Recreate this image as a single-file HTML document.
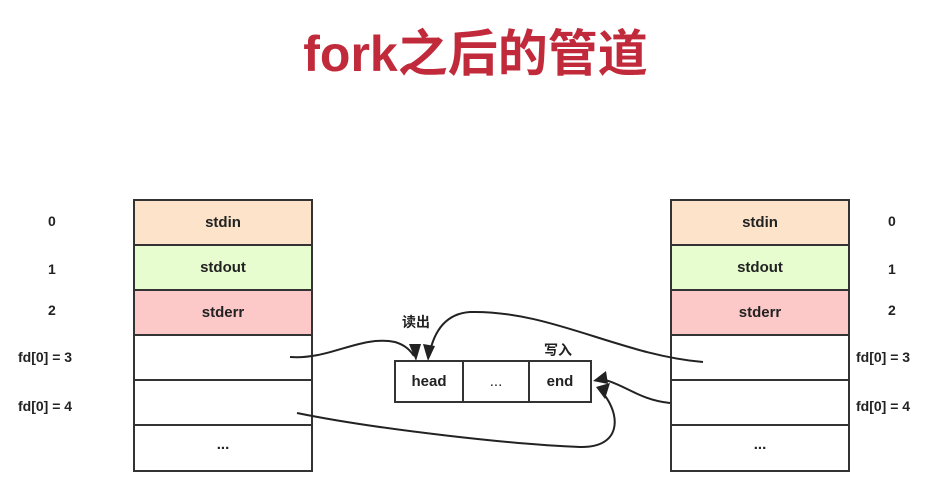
<!DOCTYPE html>
<html><head><meta charset="utf-8"><style>
body{margin:0;width:951px;height:500px;background:#fff;position:relative;overflow:hidden;font-family:"Liberation Sans","Noto Sans CJK SC",sans-serif;}
.t{position:absolute;left:0;width:951px;top:22px;text-align:center;font-size:50px;font-weight:bold;color:#c12a3b;line-height:64px;}
.tb{position:absolute;width:180px;border:2px solid #333;box-sizing:border-box;}
.tb div{height:45px;border-bottom:2px solid #333;box-sizing:border-box;text-align:center;line-height:43px;font-size:15px;font-weight:bold;color:#222;}
.tb div:last-child{border-bottom:none}
.l{position:absolute;font-size:14px;font-weight:bold;color:#222;}
</style></head><body>
<div class="t">fork之后的管道</div>
<div class="tb" style="left:133px;top:199px;height:273px">
<div style="background:#fde3c9">stdin</div><div style="background:#e7fdd0">stdout</div><div style="background:#fdc8c8">stderr</div><div></div><div></div><div style="line-height:38px">...</div></div>
<div class="tb" style="left:670px;top:199px;height:273px">
<div style="background:#fde3c9">stdin</div><div style="background:#e7fdd0">stdout</div><div style="background:#fdc8c8">stderr</div><div></div><div></div><div style="line-height:38px">...</div></div>
<div class="l" style="left:48px;top:213px">0</div>
<div class="l" style="left:48px;top:261px">1</div>
<div class="l" style="left:48px;top:302px">2</div>
<div class="l" style="left:18px;top:349px">fd[0] = 3</div>
<div class="l" style="left:18px;top:398px">fd[0] = 4</div>
<div class="l" style="left:888px;top:213px">0</div>
<div class="l" style="left:888px;top:261px">1</div>
<div class="l" style="left:888px;top:302px">2</div>
<div class="l" style="left:856px;top:349px">fd[0] = 3</div>
<div class="l" style="left:856px;top:398px">fd[0] = 4</div>
<div style="position:absolute;left:394px;top:360px;width:198px;height:43px;border:2px solid #333;box-sizing:border-box;display:flex;font-size:15px;font-weight:bold;color:#222">
<div style="width:66px;border-right:2px solid #333;text-align:center;line-height:39px">head</div>
<div style="width:64px;border-right:2px solid #333;text-align:center;line-height:39px;font-weight:normal">...</div>
<div style="flex:1;text-align:center;line-height:39px">end</div></div>
<div class="l" style="left:402px;top:312px">读出</div>
<div class="l" style="left:544px;top:340px">写入</div>
<svg width="951" height="500" style="position:absolute;left:0;top:0" fill="none" stroke="#222" stroke-width="2">
<path d="M290 357 C330 360 360 335 395 342 C405 345 410 350 414 356"/>
<path d="M703 362 C620 355 550 310 470 312 C440 314 432 340 429 356"/>
<path d="M297 413 C380 430 520 445 580 447 C625 448 620 410 600 390"/>
<path d="M670 403 C640 400 625 385 605 380"/>
<g fill="#222" stroke="none">
<polygon points="409,344 421,344 416,361"/>
<polygon points="423,344 435,346 428,361"/>
<polygon points="593,381 606,371 608,384"/>
<polygon points="596,387 610,383 605,399"/>
</g></svg>
</body></html>
